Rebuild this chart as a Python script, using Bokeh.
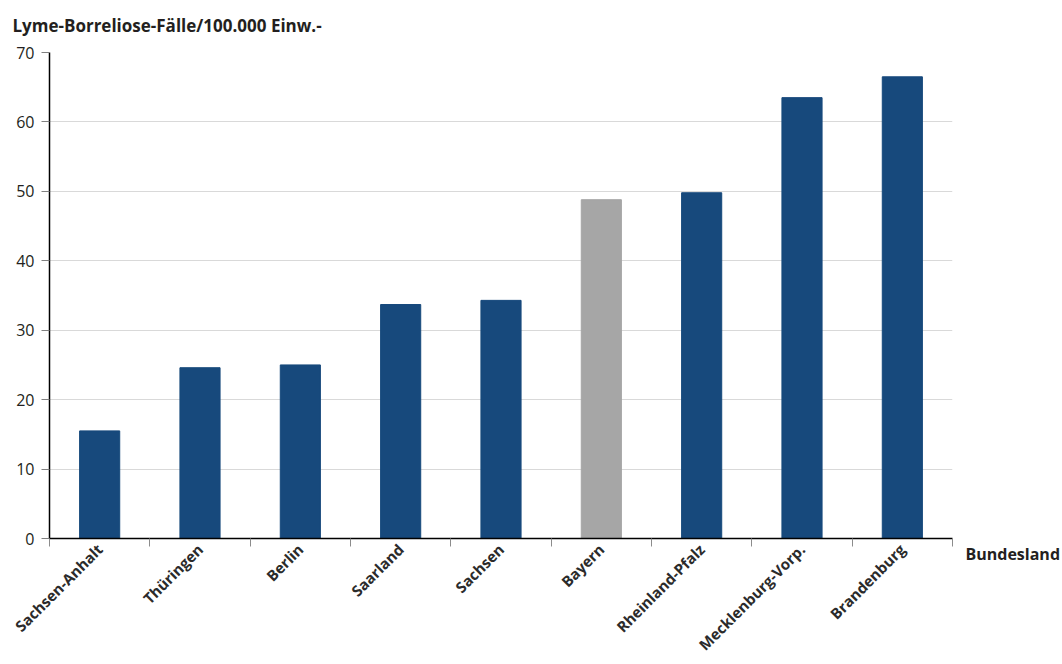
import math
from bokeh.plotting import figure
from bokeh.models import (ColumnDataSource, FixedTicker, Range1d, Label)
from bokeh.embed import file_html
from bokeh.resources import INLINE

# ---- data ----
states = ["Sachsen-Anhalt", "Thüringen", "Berlin", "Saarland", "Sachsen",
          "Bayern", "Rheinland-Pfalz", "Mecklenburg-Vorp.", "Brandenburg"]
values = [15.5, 24.6, 25.0, 33.7, 34.3, 48.8, 49.8, 63.5, 66.5]
highlight = "Bayern"
y_ticks = [0, 10, 20, 30, 40, 50, 60, 70]
title_text = "Lyme-Borreliose-Fälle/100.000 Einw.-"
x_title = "Bundesland"

BLUE = "#17497c"
GREY = "#a6a6a6"
FONT = "Open Sans"
TXT = "#231f20"

pos = [i + 0.5 for i in range(len(states))]
bounds = list(range(len(states) + 1))
colors = [GREY if s == highlight else BLUE for s in states]
src = ColumnDataSource(dict(x=pos, top=values, color=colors, name=states))

p = figure(width=1062, height=664, output_backend="svg", toolbar_location=None,
           x_range=Range1d(0, len(states)), y_range=Range1d(0, 70),
           min_border_left=49, min_border_right=110, min_border_top=52,
           min_border_bottom=126)
p.outline_line_color = None
p.background_fill_color = "white"
p.border_fill_color = "white"

p.vbar(x="x", top="top", width=0.4, bottom=0, color="color",
       line_color="color", source=src)

# y axis
p.yaxis.ticker = FixedTicker(ticks=y_ticks)
p.yaxis.axis_line_color = "black"
p.yaxis.axis_line_width = 1.5
p.yaxis.major_tick_out = 8
p.yaxis.major_tick_in = 0
p.yaxis.major_tick_line_color = "#808080"
p.yaxis.minor_tick_line_color = None
p.yaxis.major_label_text_font = FONT
p.yaxis.major_label_text_font_size = "16px"
p.yaxis.major_label_text_color = TXT
p.yaxis.major_label_standoff = 7

# x axis: labels at category centres, tick marks at category boundaries
p.xaxis.ticker = FixedTicker(ticks=pos, minor_ticks=bounds)
p.xaxis.major_label_overrides = {x: s for x, s in zip(pos, states)}
p.xaxis.major_label_orientation = math.pi / 4
p.xaxis.major_label_text_font = FONT
p.xaxis.major_label_text_font_style = "bold"
p.xaxis.major_label_text_font_size = "15px"
p.xaxis.major_label_text_color = "#2b2b2b"
p.xaxis.major_label_standoff = 0
p.xaxis.axis_line_color = "black"
p.xaxis.axis_line_width = 1.5
p.xaxis.major_tick_out = 0
p.xaxis.major_tick_in = 0
p.xaxis.major_tick_line_color = None
p.xaxis.minor_tick_out = 8
p.xaxis.minor_tick_in = 0
p.xaxis.minor_tick_line_color = "#8c8c8c"

p.xgrid.grid_line_color = None
p.ygrid.ticker = FixedTicker(ticks=y_ticks)
p.ygrid.grid_line_color = "#d9d9d9"
p.ygrid.grid_line_width = 1

p.add_layout(Label(x=0, y=70, x_offset=-37, y_offset=27,
                   text=title_text, text_font=FONT, text_font_style="bold",
                   text_font_size="17px", text_color=TXT,
                   text_baseline="middle", text_align="left"), "above")

p.add_layout(Label(x=len(states), y=0, x_offset=13, y_offset=-15,
                   text=x_title, text_font=FONT, text_font_style="bold",
                   text_font_size="16px", text_color=TXT,
                   text_baseline="middle", text_align="left"), "right")

open("out.html", "w").write(file_html(p, INLINE))
